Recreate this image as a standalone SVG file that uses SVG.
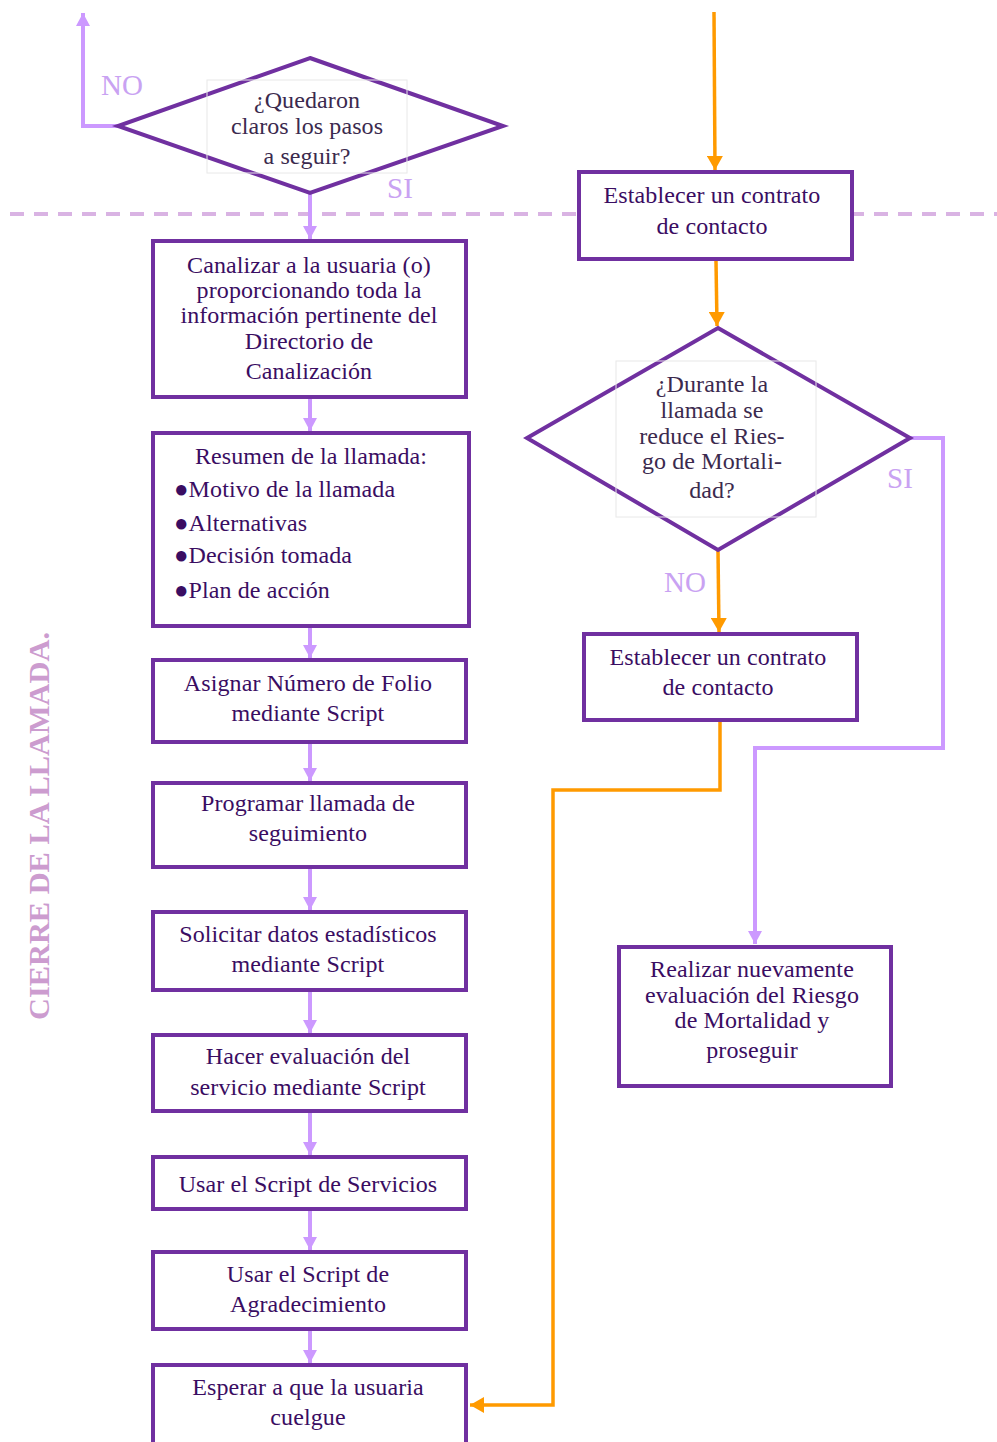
<svg xmlns="http://www.w3.org/2000/svg" width="997" height="1442" viewBox="0 0 997 1442">
  <style>
    .box { fill: #ffffff; stroke: #7030a0; stroke-width: 4; }
    .dia { fill: #ffffff; stroke: #7030a0; stroke-width: 4; stroke-linejoin: miter; }
    .tbox { fill: none; stroke: #e8e8e8; stroke-width: 1; }
    .t { font-family: "Liberation Serif", "Times New Roman", serif; font-size: 24px; fill: #3a0d62; text-anchor: middle; letter-spacing: 0.1px; }
    .tl { font-family: "Liberation Serif", "Times New Roman", serif; font-size: 24px; fill: #3a0d62; letter-spacing: 0.1px; }
    .td { font-family: "Liberation Serif", "Times New Roman", serif; font-size: 24px; fill: #3b2a4e; text-anchor: middle; letter-spacing: 0.1px; }
    .lbl { font-family: "Liberation Serif", "Times New Roman", serif; font-size: 29px; fill: #c9a2f2; }
    .lav { fill: none; stroke: #cc99ff; stroke-width: 4; }
    .org { fill: none; stroke: #ff9a00; stroke-width: 3.5; }
    .sep { fill: none; stroke: #d9b3e3; stroke-width: 4; stroke-dasharray: 14 10; }
    .side { font-family: "Liberation Serif", "Times New Roman", serif; font-size: 30px; font-weight: bold; fill: #cc9ccf; }
  </style>
  <defs>
    <marker id="aL" markerUnits="userSpaceOnUse" markerWidth="16" markerHeight="14" refX="13" refY="7" orient="auto">
      <path d="M0,0 L13,7 L0,14 Z" fill="#cc99ff"/>
    </marker>
    <marker id="aO" markerUnits="userSpaceOnUse" markerWidth="16" markerHeight="16" refX="14" refY="8" orient="auto">
      <path d="M0,0 L14,8 L0,16 Z" fill="#ff9a00"/>
    </marker>
  </defs>

  <!-- section divider -->
  <line class="sep" x1="10" y1="214" x2="997" y2="214"/>

  <!-- side title -->
  <text class="side" transform="translate(49,1020) rotate(-90)" textLength="388" lengthAdjust="spacingAndGlyphs">CIERRE DE LA LLAMADA.</text>

  <!-- connectors -->
  <g id="connectors">
    <polyline class="lav" points="118,126 83,126 83,13" marker-end="url(#aL)"/>
    <line class="lav" x1="310" y1="193" x2="310" y2="239" marker-end="url(#aL)"/>
    <line class="lav" x1="310" y1="399" x2="310" y2="431" marker-end="url(#aL)"/>
    <line class="lav" x1="310" y1="628" x2="310" y2="658" marker-end="url(#aL)"/>
    <line class="lav" x1="310" y1="744" x2="310" y2="781" marker-end="url(#aL)"/>
    <line class="lav" x1="310" y1="869" x2="310" y2="910" marker-end="url(#aL)"/>
    <line class="lav" x1="310" y1="992" x2="310" y2="1033" marker-end="url(#aL)"/>
    <line class="lav" x1="310" y1="1113" x2="310" y2="1155" marker-end="url(#aL)"/>
    <line class="lav" x1="310" y1="1211" x2="310" y2="1250" marker-end="url(#aL)"/>
    <line class="lav" x1="310" y1="1331" x2="310" y2="1363" marker-end="url(#aL)"/>
    <line class="org" x1="714" y1="12" x2="715" y2="170" marker-end="url(#aO)"/>
    <line class="org" x1="716" y1="261" x2="717" y2="326" marker-end="url(#aO)"/>
    <line class="org" x1="718" y1="551" x2="719" y2="632" marker-end="url(#aO)"/>
    <polyline class="lav" points="910,438 943,438 943,748 755,748 755,944" marker-end="url(#aL)"/>
    <polyline class="org" points="720,722 720,790 553,790 553,1405 470,1405" marker-end="url(#aO)"/>
  </g>

  <!-- branch labels -->
  <text class="lbl" x="101" y="95">NO</text>
  <text class="lbl" x="387" y="198">SI</text>
  <text class="lbl" x="887" y="488">SI</text>
  <text class="lbl" x="664" y="592">NO</text>

  <g id="q-pasos">
    <polygon class="dia" points="310,58 503,126 310,193 118,126"/>
    <rect class="tbox" x="207" y="80" width="200" height="93"/>
    <text class="td" x="307" y="108">¿Quedaron</text>
    <text class="td" x="307" y="134">claros los pasos</text>
    <text class="td" x="307" y="164">a seguir?</text>
  </g>

  <g id="canalizar">
    <rect class="box" x="153" y="241" width="313" height="156"/>
    <text class="t" x="309" y="273">Canalizar a la usuaria (o)</text>
    <text class="t" x="309" y="298">proporcionando toda la</text>
    <text class="t" x="309" y="323">información pertinente del</text>
    <text class="t" x="309" y="349">Directorio de</text>
    <text class="t" x="309" y="379">Canalización</text>
  </g>

  <g id="resumen">
    <rect class="box" x="153" y="433" width="316" height="193"/>
    <text class="t" x="311" y="464">Resumen de la llamada:</text>
    <text class="tl" x="174" y="497">●Motivo de la llamada</text>
    <text class="tl" x="174" y="531">●Alternativas</text>
    <text class="tl" x="174" y="563">●Decisión tomada</text>
    <text class="tl" x="174" y="598">●Plan de acción</text>
  </g>

  <g id="folio">
    <rect class="box" x="153" y="660" width="313" height="82"/>
    <text class="t" x="308" y="691">Asignar Número de Folio</text>
    <text class="t" x="308" y="721">mediante Script</text>
  </g>

  <g id="programar">
    <rect class="box" x="153" y="783" width="313" height="84"/>
    <text class="t" x="308" y="811">Programar llamada de</text>
    <text class="t" x="308" y="841">seguimiento</text>
  </g>

  <g id="estadisticos">
    <rect class="box" x="153" y="912" width="313" height="78"/>
    <text class="t" x="308" y="942">Solicitar datos estadísticos</text>
    <text class="t" x="308" y="972">mediante Script</text>
  </g>

  <g id="evaluacion">
    <rect class="box" x="153" y="1035" width="313" height="76"/>
    <text class="t" x="308" y="1064">Hacer evaluación del</text>
    <text class="t" x="308" y="1095">servicio mediante Script</text>
  </g>

  <g id="servicios">
    <rect class="box" x="153" y="1157" width="313" height="52"/>
    <text class="t" x="308" y="1192">Usar el Script de Servicios</text>
  </g>

  <g id="agradecimiento">
    <rect class="box" x="153" y="1252" width="313" height="77"/>
    <text class="t" x="308" y="1282">Usar el Script de</text>
    <text class="t" x="308" y="1312">Agradecimiento</text>
  </g>

  <g id="esperar">
    <rect class="box" x="153" y="1365" width="313" height="90"/>
    <text class="t" x="308" y="1395">Esperar a que la usuaria</text>
    <text class="t" x="308" y="1425">cuelgue</text>
  </g>

  <g id="contrato-1">
    <rect class="box" x="579" y="172" width="273" height="87"/>
    <text class="t" x="712" y="203">Establecer un contrato</text>
    <text class="t" x="712" y="234">de contacto</text>
  </g>

  <g id="q-riesgo">
    <polygon class="dia" points="718,328 910,438 718,550 527,438"/>
    <rect class="tbox" x="616" y="361" width="200" height="156"/>
    <text class="td" x="712" y="392">¿Durante la</text>
    <text class="td" x="712" y="418">llamada se</text>
    <text class="td" x="712" y="444">reduce el Ries-</text>
    <text class="td" x="712" y="469">go de Mortali-</text>
    <text class="td" x="712" y="498">dad?</text>
  </g>

  <g id="contrato-2">
    <rect class="box" x="584" y="634" width="273" height="86"/>
    <text class="t" x="718" y="665">Establecer un contrato</text>
    <text class="t" x="718" y="695">de contacto</text>
  </g>

  <g id="reevaluar">
    <rect class="box" x="619" y="947" width="272" height="139"/>
    <text class="t" x="752" y="977">Realizar nuevamente</text>
    <text class="t" x="752" y="1003">evaluación del Riesgo</text>
    <text class="t" x="752" y="1028">de Mortalidad y</text>
    <text class="t" x="752" y="1058">proseguir</text>
  </g>
</svg>
